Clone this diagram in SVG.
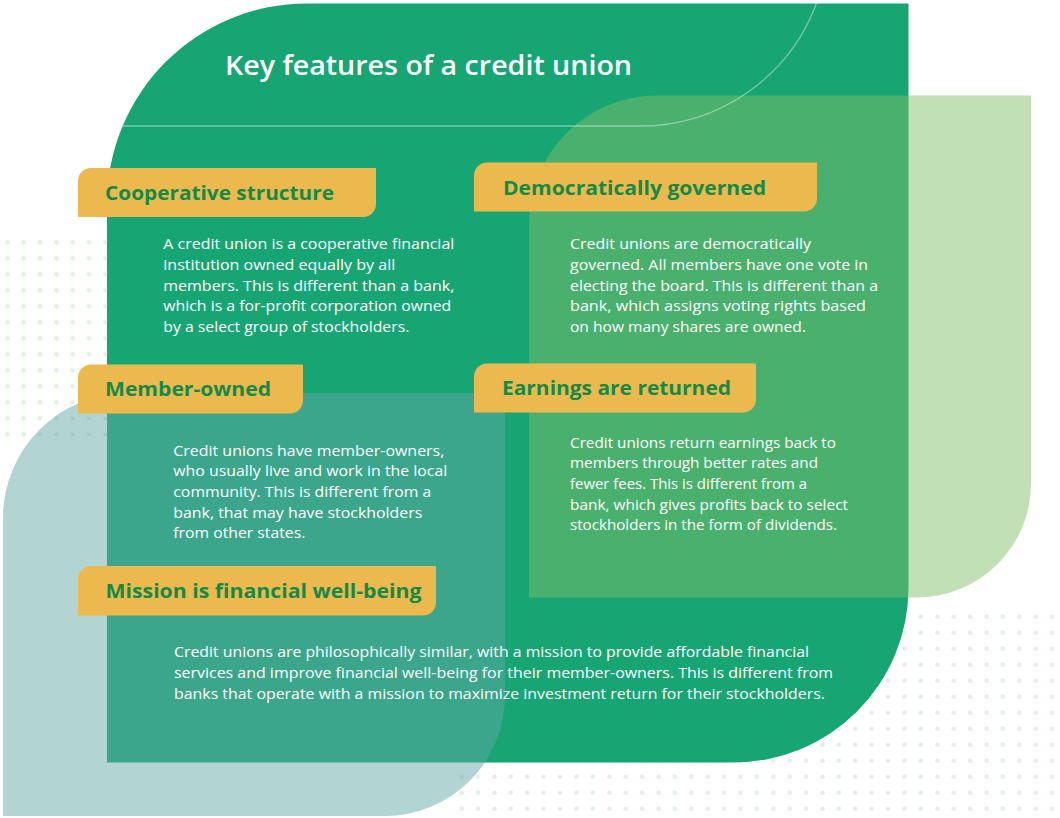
<svg xmlns="http://www.w3.org/2000/svg" width="1060" height="818" viewBox="0 0 1060 818">
<style>
.lbl{fill:#ecb94f}
.lt{font-family:"Open Sans","Noto Sans",sans-serif;font-weight:700;font-size:20px;fill:#148a48}
.bt{font-family:"Open Sans","Noto Sans",sans-serif;font-size:14.7px;fill:#ffffff}
.title{font-family:"Open Sans","Noto Sans",sans-serif;font-weight:600;font-size:27px;fill:#ffffff}
</style>
<defs>
<pattern id="dotsL" patternUnits="userSpaceOnUse" x="-0.9" y="234.3" width="16.35" height="16">
<circle cx="8.175" cy="8" r="2.3" fill="#e2f1e2"/>
</pattern>
<pattern id="dotsR" patternUnits="userSpaceOnUse" x="453.5" y="608.7" width="16.4" height="16">
<circle cx="8.2" cy="8" r="2.3" fill="#e2f1e2"/>
</pattern>
</defs>
<rect width="1060" height="818" fill="#ffffff"/>
<g id="background">
<rect x="0" y="234.3" width="114" height="208" fill="url(#dotsL)"/>
<rect x="453.5" y="608.7" width="606.5" height="208" fill="url(#dotsR)"/>
<path d="M107,762.5 V203.5 A200,200 0 0 1 307,3.5 H908.5 V587.5 A175,175 0 0 1 733.5,762.5 Z" fill="#17a574"/>
<path d="M529,597.5 V223.5 A128,128 0 0 1 657,95.5 H1031 V483.5 A114,114 0 0 1 917,597.5 Z" fill="rgb(128,190,103)" fill-opacity="0.48"/>
<path d="M3,816 V518 A125,125 0 0 1 128,393 H505 V696 A120,120 0 0 1 385,816 Z" fill="rgb(98,167,165)" fill-opacity="0.49"/>
<path d="M123,126 H640 A188,188 0 0 0 816.4,3.5" fill="none" stroke="#ffffff" stroke-opacity="0.4" stroke-width="1.3"/>
</g>
<g id="title">
<text class="title" x="225" y="75" textLength="407" lengthAdjust="spacingAndGlyphs">Key features of a credit union</text>
</g>
<g id="node-cooperative">
<path class="lbl" d="M78,217 V181 A13,13 0 0 1 91,168 H376 V204 A13,13 0 0 1 363,217 Z"/>
<text class="lt" x="105" y="200" textLength="229" lengthAdjust="spacingAndGlyphs">Cooperative structure</text>
<text class="bt" x="163.3" y="249" textLength="291" lengthAdjust="spacingAndGlyphs">A credit union is a cooperative financial</text>
<text class="bt" x="163.3" y="269.8" textLength="232" lengthAdjust="spacingAndGlyphs">institution owned equally by all</text>
<text class="bt" x="163.3" y="290.6" textLength="291" lengthAdjust="spacingAndGlyphs">members. This is different than a bank,</text>
<text class="bt" x="163.3" y="311.4" textLength="288" lengthAdjust="spacingAndGlyphs">which is a for-profit corporation owned</text>
<text class="bt" x="163.3" y="332.2" textLength="246" lengthAdjust="spacingAndGlyphs">by a select group of stockholders.</text>
</g>
<g id="node-democratic">
<path class="lbl" d="M474,211.5 V175.5 A13,13 0 0 1 487,162.5 H817 V198.5 A13,13 0 0 1 804,211.5 Z"/>
<text class="lt" x="503" y="194.5" textLength="263" lengthAdjust="spacingAndGlyphs">Democratically governed</text>
<text class="bt" x="570" y="249" textLength="241" lengthAdjust="spacingAndGlyphs">Credit unions are democratically</text>
<text class="bt" x="570" y="269.8" textLength="298" lengthAdjust="spacingAndGlyphs">governed. All members have one vote in</text>
<text class="bt" x="570" y="290.6" textLength="308" lengthAdjust="spacingAndGlyphs">electing the board. This is different than a</text>
<text class="bt" x="570" y="311.4" textLength="296" lengthAdjust="spacingAndGlyphs">bank, which assigns voting rights based</text>
<text class="bt" x="570" y="332.2" textLength="236" lengthAdjust="spacingAndGlyphs">on how many shares are owned.</text>
</g>
<g id="node-member">
<path class="lbl" d="M78,413.5 V377.5 A13,13 0 0 1 91,364.5 H303 V400.5 A13,13 0 0 1 290,413.5 Z"/>
<text class="lt" x="105" y="396" textLength="166" lengthAdjust="spacingAndGlyphs">Member-owned</text>
<text class="bt" x="173.3" y="455.7" textLength="271" lengthAdjust="spacingAndGlyphs">Credit unions have member-owners,</text>
<text class="bt" x="173.3" y="476.3" textLength="274" lengthAdjust="spacingAndGlyphs">who usually live and work in the local</text>
<text class="bt" x="173.3" y="496.9" textLength="258" lengthAdjust="spacingAndGlyphs">community. This is different from a</text>
<text class="bt" x="173.3" y="517.5" textLength="249" lengthAdjust="spacingAndGlyphs">bank, that may have stockholders</text>
<text class="bt" x="173.3" y="538.1" textLength="132" lengthAdjust="spacingAndGlyphs">from other states.</text>
</g>
<g id="node-earnings">
<path class="lbl" d="M474,412.5 V376.5 A13,13 0 0 1 487,363.5 H756 V399.5 A13,13 0 0 1 743,412.5 Z"/>
<text class="lt" x="502" y="395" textLength="229" lengthAdjust="spacingAndGlyphs">Earnings are returned</text>
<text class="bt" x="570" y="447.7" textLength="266" lengthAdjust="spacingAndGlyphs">Credit unions return earnings back to</text>
<text class="bt" x="570" y="468.3" textLength="248" lengthAdjust="spacingAndGlyphs">members through better rates and</text>
<text class="bt" x="570" y="488.9" textLength="237" lengthAdjust="spacingAndGlyphs">fewer fees. This is different from a</text>
<text class="bt" x="570" y="509.5" textLength="278" lengthAdjust="spacingAndGlyphs">bank, which gives profits back to select</text>
<text class="bt" x="570" y="530.1" textLength="267" lengthAdjust="spacingAndGlyphs">stockholders in the form of dividends.</text>
</g>
<g id="node-mission">
<path class="lbl" d="M78,615.5 V579 A13,13 0 0 1 91,566 H436 V602.5 A13,13 0 0 1 423,615.5 Z"/>
<text class="lt" x="105.5" y="598" textLength="316" lengthAdjust="spacingAndGlyphs">Mission is financial well-being</text>
<text class="bt" x="174" y="657.3" textLength="635" lengthAdjust="spacingAndGlyphs">Credit unions are philosophically similar, with a mission to provide affordable financial</text>
<text class="bt" x="174" y="678.2" textLength="659" lengthAdjust="spacingAndGlyphs">services and improve financial well-being for their member-owners. This is different from</text>
<text class="bt" x="174" y="699" textLength="651" lengthAdjust="spacingAndGlyphs">banks that operate with a mission to maximize investment return for their stockholders.</text>
</g>
<g id="connectors"/>
</svg>
